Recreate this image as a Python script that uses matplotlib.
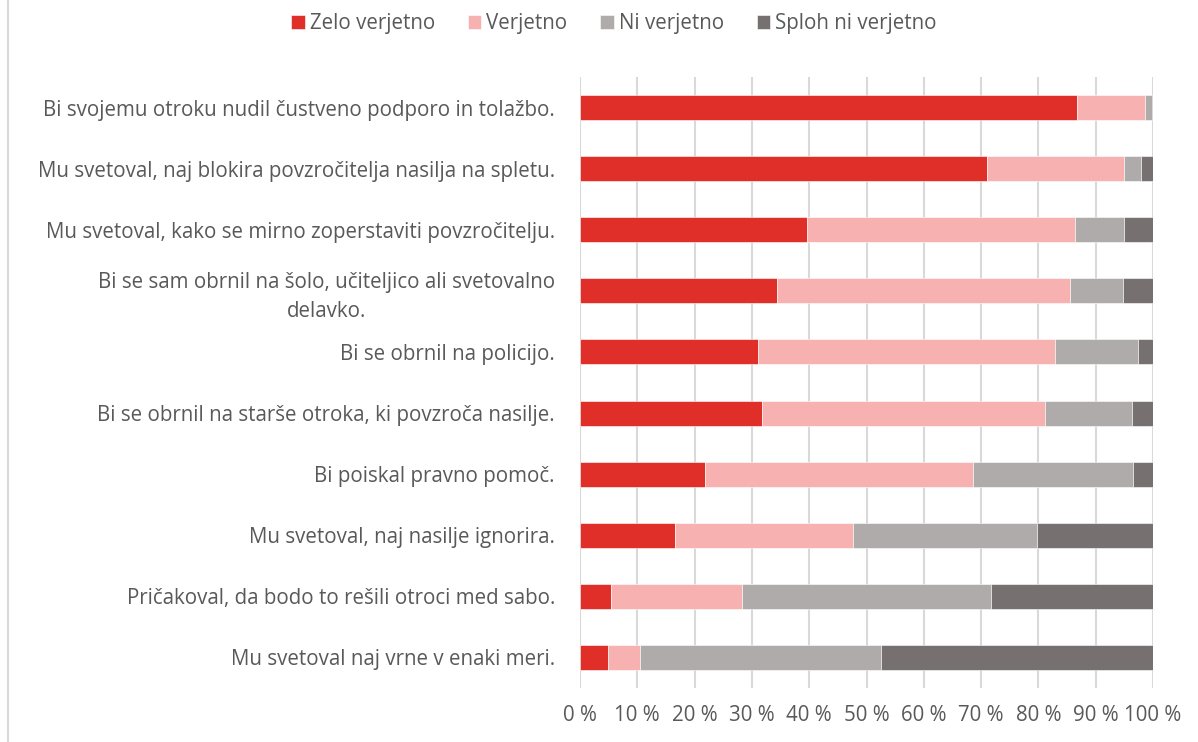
import numpy as np
from matplotlib import pyplot as plt

plt.rcParams['font.family'] = ['Open Sans', 'DejaVu Sans']

categories = [
    "Bi svojemu otroku nudil čustveno podporo in tolažbo.",
    "Mu svetoval, naj blokira povzročitelja nasilja na spletu.",
    "Mu svetoval, kako se mirno zoperstaviti povzročitelju.",
    "Bi se sam obrnil na šolo, učiteljico ali svetovalno\ndelavko.",
    "Bi se obrnil na policijo.",
    "Bi se obrnil na starše otroka, ki povzroča nasilje.",
    "Bi poiskal pravno pomoč.",
    "Mu svetoval, naj nasilje ignorira.",
    "Pričakoval, da bodo to rešili otroci med sabo.",
    "Mu svetoval naj vrne v enaki meri.",
]
series_names = ["Zelo verjetno", "Verjetno", "Ni verjetno", "Sploh ni verjetno"]
zelo = [86.8, 71.0, 39.7, 34.3, 31.0, 31.7, 21.9, 16.5, 5.4, 4.9]
verjetno = [11.8, 24.0, 46.7, 51.3, 51.9, 49.4, 46.7, 31.2, 22.9, 5.5]
ni = [1.2, 2.9, 8.6, 9.2, 14.5, 15.3, 27.9, 32.1, 43.5, 42.2]
sploh = [0.2, 2.1, 5.0, 5.2, 2.6, 3.6, 3.5, 20.2, 28.2, 47.4]
colors = ['#E02E28', '#F8B1B1', '#AEABAA', '#767170']
xticks = np.arange(0, 101, 10)
xtick_labels = [f"{t} %" for t in xticks]

text_color = '#595959'
fs = 14.8

fig = plt.figure(figsize=(11.98, 7.42), dpi=100)
ax = fig.add_axes([580/1198, 54/742, 573/1198, 611/742])

y = np.arange(len(categories))
left = np.zeros(len(categories))
for name, vals, c in zip(series_names, [zelo, verjetno, ni, sploh], colors):
    vals = np.array(vals)
    ax.barh(y, vals, left=left, height=0.41, color=c, label=name,
            edgecolor='white', linewidth=0.4, zorder=3)
    left += vals

ax.set_xlim(0, 100)
ax.set_ylim(len(categories) - 0.5, -0.5)
ax.set_yticks(y)
ax.set_yticklabels(categories)
ax.set_xticks(xticks)
ax.set_xticklabels(xtick_labels)
for lab in ax.get_yticklabels():
    lab.set_multialignment('center')
    lab.set_linespacing(1.45)
ax.tick_params(axis='y', length=0, pad=18, labelsize=fs, labelcolor=text_color)
ax.tick_params(axis='x', length=0, pad=12, labelsize=fs, labelcolor=text_color)
ax.grid(axis='x', color='#D9D9D9', linewidth=1.5, zorder=0)
for s in ax.spines.values():
    s.set_visible(False)

fig.legend(loc='center', bbox_to_anchor=(614/1198, 1 - 24/742), ncol=4,
           frameon=False, fontsize=fs, labelcolor=text_color,
           handlelength=0.65, handleheight=0.65, handletextpad=0.25, columnspacing=1.6)

fig.add_artist(plt.Line2D([8/1198, 8/1198], [0, 1], color='#D9D9D9', linewidth=1.5))

fig.savefig('out.png', dpi=100)
